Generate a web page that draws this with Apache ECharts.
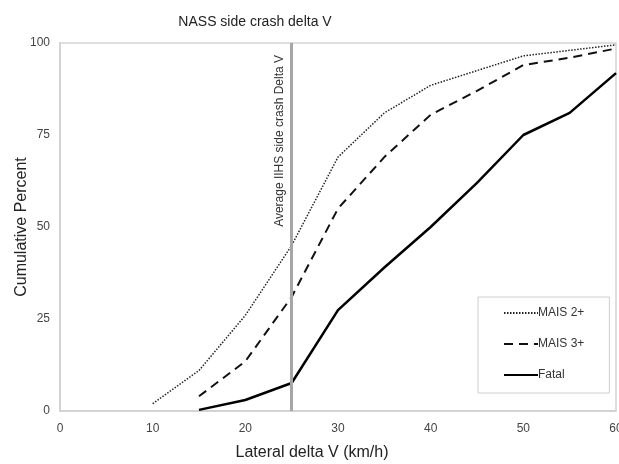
<!DOCTYPE html>
<html><head><meta charset="utf-8">
<script src="https://cdn.jsdelivr.net/npm/echarts@6/dist/echarts.min.js"></script>
<style>html,body{margin:0;padding:0;background:#fff}#c{width:619px;height:464px}</style>
</head><body><div id="c"></div>
<script>
var xValues = [10, 15, 20, 25, 30, 35, 40, 45, 50, 55, 60];
var mais2 = [2, 11, 26, 45, 69, 81, 88.5, 92.5, 96.5, 98, 99.5];
var mais3 = [null, 4, 13.5, 31, 55, 69, 80.5, 87, 94, 96, 98.5];
var fatal = [null, 0.3, 3, 7.6, 27.4, 39, 50, 62, 75, 81, 91.8];
var xTicks = [0, 10, 20, 30, 40, 50, 60];
var yTicks = [0, 25, 50, 75, 100];
var refX = 25;
var refLabel = 'Average IIHS side crash Delta V';

function pairs(vals){ var out=[]; for(var i=0;i<xValues.length;i++){ if(vals[i]!==null) out.push([xValues[i], vals[i]]); } return out; }

var font = 'Liberation Sans, Arial, sans-serif';
var chart = echarts.init(document.getElementById('c'));
chart.setOption({
  animation: false,
  backgroundColor: '#fff',
  title: { text: 'NASS side crash delta V', left: 250, textAlign: 'center', top: 10,
    textStyle: { fontFamily: font, fontSize: 14, fontWeight: 'normal', color: '#222' } },
  grid: { left: 60, right: 3, top: 43, bottom: 53, show: true, borderColor: '#d4d4d4', borderWidth: 1.5,
    outerBoundsMode: 'none', containLabel: false },
  xAxis: { type: 'value', min: xTicks[0], max: xTicks[xTicks.length-1], interval: 10,
    name: 'Lateral delta V (km/h)', nameLocation: 'middle', nameGap: 34, nameMoveOverlap: false,
    nameTextStyle: { fontFamily: font, fontSize: 16, color: '#222', padding: [0, 52, 0, 0] },
    axisLine: { show: true, lineStyle: { color: '#cfcfcf', width: 1.5 } },
    axisTick: { show: false }, splitLine: { show: false },
    axisLabel: { fontFamily: font, fontSize: 12, color: '#444', margin: 12 } },
  yAxis: { type: 'value', min: yTicks[0], max: yTicks[yTicks.length-1], interval: 25,
    name: 'Cumulative Percent', nameLocation: 'middle', nameGap: 30, nameMoveOverlap: false,
    nameTextStyle: { fontFamily: font, fontSize: 16, color: '#222' },
    axisLine: { show: true, lineStyle: { color: '#cfcfcf', width: 1.5 } },
    axisTick: { show: false }, splitLine: { show: false },
    axisLabel: { fontFamily: font, fontSize: 12, color: '#444', margin: 10 } },
  legend: { orient: 'vertical', left: 478, top: 297,
    padding: [10, 25, 12, 25], itemGap: 19, itemWidth: 34, itemHeight: 14,
    borderColor: '#cfcfcf', borderWidth: 1, backgroundColor: '#fff',
    itemStyle: { opacity: 0 },
    textStyle: { fontFamily: font, fontSize: 12, color: '#333', padding: [0,0,0,-5] },
    data: ['MAIS 2+', 'MAIS 3+', 'Fatal'] },
  series: [
    { name: 'MAIS 2+', type: 'line', data: pairs(mais2), showSymbol: false, symbol: 'none',
      lineStyle: { color: '#222', width: 1.5, type: [1.5, 1.5] }, itemStyle: { color: '#222' },
      markLine: { silent: true, symbol: 'none', animation: false,
        lineStyle: { color: '#a6a6a6', width: 3, type: 'solid' },
        label: { show: true, position: 'insideEndTop', formatter: refLabel, distance: [12, 6],
          fontFamily: font, fontSize: 12, color: '#333' },
        data: [{ xAxis: refX }] } },
    { name: 'MAIS 3+', type: 'line', data: pairs(mais3), showSymbol: false, symbol: 'none',
      lineStyle: { color: '#111', width: 2, type: [9, 6] }, itemStyle: { color: '#111' } },
    { name: 'Fatal', type: 'line', data: pairs(fatal), showSymbol: false, symbol: 'none',
      lineStyle: { color: '#000', width: 2.5, type: 'solid' }, itemStyle: { color: '#000' } }
  ]
});
</script></body></html>
